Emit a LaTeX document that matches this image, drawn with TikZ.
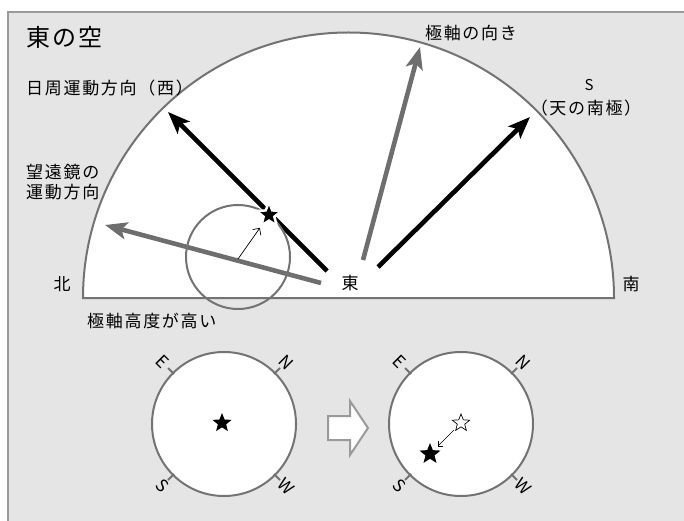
\documentclass[tikz,border=0pt]{standalone}
\usepackage{fontspec}
\setmainfont{Noto Sans CJK JP}
\newfontfamily\jp[LetterSpace=10]{Noto Sans CJK JP}
\usetikzlibrary{arrows.meta,shapes.geometric}
\definecolor{skyFrame}{HTML}{9A9A9A}
\definecolor{skyBack}{HTML}{E5E5E5}
\definecolor{skyLine}{HTML}{737373}
\definecolor{skyGrey}{HTML}{6E6E6E}

\begin{document}
\begin{tikzpicture}[
  x=1pt,y=-1pt,
  lbl/.style={font=\jp\fontsize{17}{20}\selectfont, inner sep=0pt, align=left},
  ttl/.style={font=\jp\fontsize{24}{28}\selectfont, inner sep=0pt},
  dir/.style={font=\fontsize{17}{19}\selectfont, inner sep=0pt, rotate=-45},
  bold/.style={line width=4.6pt, -{Stealth[length=22pt, width=17pt, inset=5pt]}},
  sstar/.style={star, star points=5, star point ratio=2.3, inner sep=0pt},
  ring/.style={draw=skyLine, line width=2pt}
]
\clip (0,0) rectangle (684,521);
\fill[skyBack] (8,12) rectangle (700,540);
\draw[skyFrame, line width=2pt] (700,12) -- (8,12) -- (8,540);

% half sky
\draw[ring, fill=white] (83,298) arc[start angle=180, end angle=360, radius=265.5] -- cycle;

\coordinate (wTail) at (327,271);
\coordinate (wTip) at (168,112);
\coordinate (tTail) at (321,283);
\coordinate (tTip) at (105,225);
\coordinate (pTail) at (363,260);
\coordinate (pTip) at (420,47);
\coordinate (sTail) at (378,267);
\coordinate (sTip) at (530,117);
\coordinate (mount) at (238,259);

\draw[bold, skyGrey] (tTail) -- (tTip);
\draw[bold, skyGrey] (pTail) -- (pTip);
\draw[bold, black] (wTail) -- (wTip);
\draw[bold, black] (sTail) -- (sTip);
\draw[ring] (238,257) circle[radius=52];
\node[sstar, fill=black, draw=white, line width=2.5pt, minimum size=26pt] (st) at (269,215) {};
\draw[-{Straight Barb[length=5pt]}, line width=0.7pt] (mount) -- (st);

\node[ttl, anchor=west] (sky) at (26,37) {東の空};
\node[lbl, anchor=west] (west) at (26,88) {日周運動方向（西）};
\node[lbl, anchor=west] (scope) at (26,182) {望遠鏡の\\運動方向};
\node[lbl] (north) at (62,284) {北};
\node[lbl] (east) at (350,283) {東};
\node[lbl] (south) at (631,284) {南};
\node[lbl, anchor=west] (high) at (87,321) {極軸高度が高い};
\node[lbl] (axis) at (471,33) {極軸の向き};
\node[lbl] (pole) at (586,108) {（天の南極）};
\node[font=\fontsize{15}{18}\selectfont, inner sep=0pt] (s) at (589,85) {S};

% eyepiece views
\foreach \cx in {224,461} {
  \begin{scope}[shift={(\cx,424)}]
    \draw[ring, fill=white] (0,0) circle[radius=72];
    \foreach \sx/\sy/\d in {-1/-1/E, 1/-1/N, 1/1/W, -1/1/S} {
      \draw[skyLine, line width=2pt] (\sx*50,\sy*50) -- (\sx*56,\sy*56);
      \node[dir] at (\sx*62,\sy*62) {\d};
    }
  \end{scope}
}
\node[sstar, fill=black, minimum size=20pt] (before) at (222,423) {};
\node[sstar, fill=white, draw=black, line width=0.7pt, minimum size=18pt] (old) at (461,423) {};
\node[sstar, fill=black, minimum size=22pt] (new) at (430,454) {};
\draw[-{Straight Barb[length=4pt]}, line width=0.6pt, shorten <=3pt, shorten >=5pt] (old) -- (new);

% hollow arrow
\draw[skyFrame, fill=white, line width=2pt] (328,416) -- (350,416) -- (350,401)
  -- (368,428) -- (350,455) -- (350,440) -- (328,440) -- cycle;
\end{tikzpicture}
\end{document}
